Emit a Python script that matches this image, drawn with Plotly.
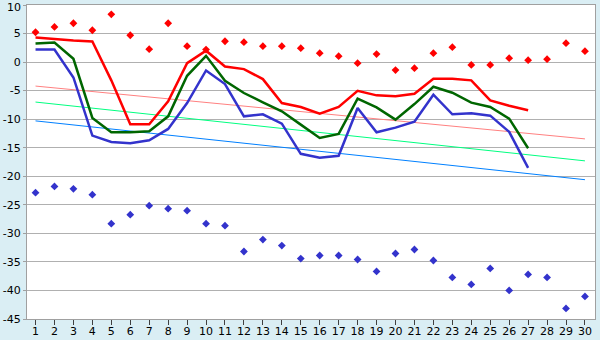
import plotly.graph_objects as go

days = list(range(1, 31))

red_points = [5.23, 6.16, 6.8, 5.58, 8.37, 4.7, 2.26, 6.8, 2.78, 2.2,
              3.65, 3.48, 2.78, 2.78, 2.43, 1.56, 1.03, -0.19, 1.4, -1.4,
              -1.06, 1.56, 2.61, -0.5, -0.5, 0.69, 0.34, 0.51, 3.31, 1.91]
blue_points = [-22.88, -21.78, -22.19, -23.23, -28.3, -26.73, -25.15, -25.67, -26.03, -28.3,
               -28.65, -33.18, -31.09, -32.14, -34.41, -33.88, -33.88, -34.58, -36.67, -33.53,
               -32.83, -34.75, -37.72, -38.94, -36.15, -39.99, -37.2, -37.72, -43.14, -41.04]

red_line = [4.3, 4.0, 3.77, 3.6, -3.2, -10.9, -10.9, -6.88, -0.19, 2.0,
            -0.77, -1.23, -2.98, -7.17, -7.87, -9.03, -7.87, -5.02, -5.83, -6.0,
            -5.54, -2.92, -2.92, -3.2, -6.7, -7.64, -8.45]
green_line = [3.25, 3.42, 0.57, -9.79, -12.29, -12.3, -12.1, -9.5, -2.4, 1.1,
              -3.27, -5.42, -7.05, -8.62, -10.95, -13.28, -12.58, -6.41, -7.93, -10.08,
              -7.35, -4.32, -5.37, -7.1, -7.87, -9.9, -15.09]
blue_line = [2.2, 2.2, -2.69, -12.87, -13.98, -14.2, -13.69, -11.71, -7.17, -1.47,
             -3.85, -9.5, -9.15, -10.78, -16.07, -16.77, -16.42, -8.04, -12.29, -11.48,
             -10.43, -5.72, -9.15, -8.98, -9.38, -12.23, -18.52]

trend_x = [1, 30]
trend_pink = [-4.2, -13.45]
trend_green = [-7.0, -17.3]
trend_blue = [-10.3, -20.6]

y_ticks = [10, 5, 0, -5, -10, -15, -20, -25, -30, -35, -40, -45]
y_labels = ["10", "5", "0", "-5", "-10", "-15", "-20", "-25", "-30", "-35", "-40", "-45"]

fig = go.Figure()

fig.add_trace(go.Scatter(x=trend_x, y=trend_pink, mode="lines",
                         line=dict(color="#ff8080", width=1)))
fig.add_trace(go.Scatter(x=trend_x, y=trend_green, mode="lines",
                         line=dict(color="#00ff80", width=1)))
fig.add_trace(go.Scatter(x=trend_x, y=trend_blue, mode="lines",
                         line=dict(color="#0080ff", width=1)))

n = len(red_line)
fig.add_trace(go.Scatter(x=days[:n], y=red_line, mode="lines",
                         line=dict(color="#ff0000", width=2.5)))
fig.add_trace(go.Scatter(x=days[:n], y=green_line, mode="lines",
                         line=dict(color="#006600", width=2.5)))
fig.add_trace(go.Scatter(x=days[:n], y=blue_line, mode="lines",
                         line=dict(color="#3333cc", width=2.5)))

fig.add_trace(go.Scatter(x=days, y=red_points, mode="markers",
                         marker=dict(symbol="diamond", size=6, color="#ff0000")))
fig.add_trace(go.Scatter(x=days, y=blue_points, mode="markers",
                         marker=dict(symbol="diamond", size=6, color="#3333cc")))

# top tick label drawn as annotation so it stays inside the page
tick_text = [""] + y_labels[1:]
fig.add_annotation(x=0, xref="paper", xanchor="right", xshift=-5,
                   y=y_ticks[0], yref="y", yanchor="top", yshift=5,
                   text=y_labels[0], showarrow=False,
                   font=dict(family="DejaVu Sans", size=11, color="#000000"),
                   borderpad=0)

fig.update_layout(
    width=600, height=340,
    margin=dict(l=27, r=5, t=5, b=21),
    paper_bgcolor="#daeef4",
    plot_bgcolor="#ffffff",
    showlegend=False,
    hovermode=False,
    font=dict(family="DejaVu Sans", size=11, color="#000000"),
)
fig.update_xaxes(
    range=[0.55, 30.53], tickmode="array", tickvals=days,
    ticktext=[str(d) for d in days],
    showgrid=False, zeroline=False, automargin=False,
    showline=True, linecolor="#a0a0a0", linewidth=1, mirror=True,
    ticks="outside", ticklen=5, tickcolor="#404040",
    tickfont=dict(size=11), ticklabeloverflow="allow",
    ticklabelstandoff=-3,
)
fig.update_yaxes(
    range=[-45, 10], tickmode="array", tickvals=y_ticks, ticktext=tick_text,
    showgrid=True, gridcolor="#b0b0b0", gridwidth=1, zeroline=False,
    automargin=False,
    showline=True, linecolor="#a0a0a0", linewidth=1, mirror=True,
    ticks="outside", ticklen=3, tickcolor="#a0a0a0",
    tickfont=dict(size=11), ticklabeloverflow="allow",
)

fig.write_html("out.html")
